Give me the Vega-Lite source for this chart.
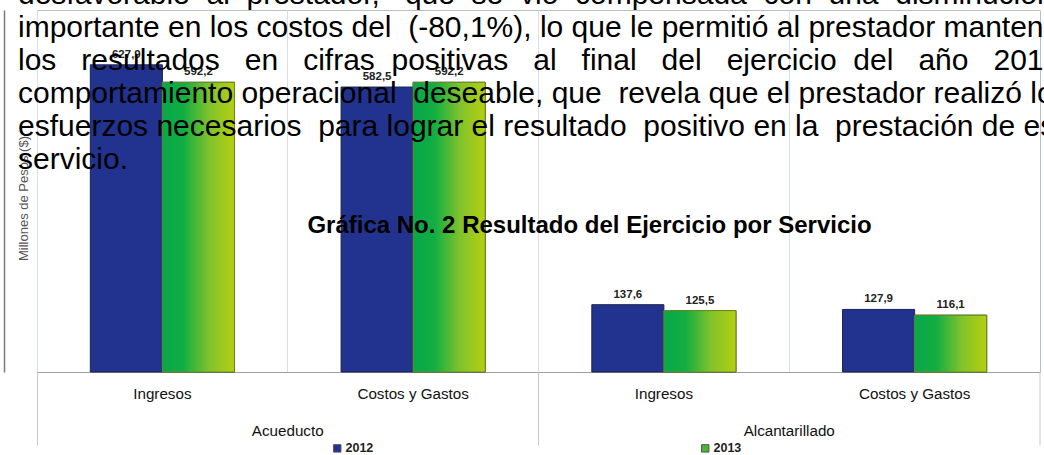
{
  "$schema": "https://vega.github.io/schema/vega-lite/v6.json",
  "width": 1003,
  "height": 362,
  "autosize": {"type": "none"},
  "padding": {"left": 37, "top": 10, "right": 4, "bottom": 83},
  "background": "white",
  "config": {
    "font": "Liberation Sans",
    "view": {"stroke": "#b8bfcc", "strokeWidth": 1},
    "locale": {"number": {"decimal": ",", "thousands": ".", "grouping": [3], "currency": ["$", ""]}}
  },
  "title": {
    "text": [
      "desfavorable\u00a0 al\u00a0 prestador,\u00a0\u00a0 que\u00a0 se\u00a0 vio\u00a0 compensada\u00a0 con\u00a0 una\u00a0 disminución",
      "importante en los costos del\u00a0 (-80,1%), lo que le permitió al prestador mantener",
      "los\u00a0\u00a0 resultados\u00a0\u00a0 en\u00a0\u00a0 cifras\u00a0 positivas\u00a0\u00a0 al\u00a0\u00a0 final\u00a0\u00a0 del\u00a0\u00a0 ejercicio\u00a0 del\u00a0\u00a0 año\u00a0\u00a0 2013",
      "comportamiento operacional\u00a0 deseable, que\u00a0 revela que el prestador realizó los",
      "esfuerzos necesarios\u00a0 para lograr el resultado\u00a0 positivo en la\u00a0 prestación de este",
      "servicio."
    ],
    "anchor": "start",
    "frame": "group",
    "orient": "top",
    "offset": 0,
    "dx": -19,
    "dy": 189,
    "baseline": "alphabetic",
    "font": "Liberation Sans",
    "fontSize": 30,
    "fontWeight": "normal",
    "color": "#000000",
    "lineHeight": 33
  },
  "data": {
    "values": [
      {"service": "Acueducto", "category": "Ingresos", "key": "Acueducto|Ingresos", "year": "2012", "value": 627.9},
      {"service": "Acueducto", "category": "Ingresos", "key": "Acueducto|Ingresos", "year": "2013", "value": 592.2},
      {"service": "Acueducto", "category": "Costos y Gastos", "key": "Acueducto|Costos y Gastos", "year": "2012", "value": 582.5},
      {"service": "Acueducto", "category": "Costos y Gastos", "key": "Acueducto|Costos y Gastos", "year": "2013", "value": 592.2},
      {"service": "Alcantarillado", "category": "Ingresos", "key": "Alcantarillado|Ingresos", "year": "2012", "value": 137.6},
      {"service": "Alcantarillado", "category": "Ingresos", "key": "Alcantarillado|Ingresos", "year": "2013", "value": 125.5},
      {"service": "Alcantarillado", "category": "Costos y Gastos", "key": "Alcantarillado|Costos y Gastos", "year": "2012", "value": 127.9},
      {"service": "Alcantarillado", "category": "Costos y Gastos", "key": "Alcantarillado|Costos y Gastos", "year": "2013", "value": 116.1}
    ]
  },
  "resolve": {"axis": {"x": "independent", "y": "independent"}},
  "layer": [
    {
      "mark": {"type": "bar", "stroke": "#1c2250", "strokeWidth": 1},
      "encoding": {
        "x": {
          "field": "key", "type": "nominal",
          "sort": ["Acueducto|Ingresos", "Acueducto|Costos y Gastos", "Alcantarillado|Ingresos", "Alcantarillado|Costos y Gastos"],
          "scale": {"domain": ["Acueducto|Ingresos", "Acueducto|Costos y Gastos", "Alcantarillado|Ingresos", "Alcantarillado|Costos y Gastos"], "paddingInner": 0, "paddingOuter": 0},
          "axis": {
            "title": null, "orient": "bottom", "labelAngle": 0, "ticks": false, "grid": false,
            "domain": true, "domainColor": "#a0a0a0", "domainWidth": 1,
            "labelExpr": "split(datum.label, '|')[1]",
            "labelFontSize": 15.2, "labelColor": "#111111", "labelPadding": 14, "labelBaseline": "top"
          }
        },
        "xOffset": {"field": "year", "type": "nominal", "scale": {"domain": ["2012", "2013"], "paddingOuter": 0.74, "paddingInner": 0}},
        "y": {
          "field": "value", "type": "quantitative",
          "scale": {"domain": [0, 740], "nice": false},
          "axis": {
            "title": "Millones de Pesos ($)", "orient": "left", "labels": false, "ticks": false, "grid": false,
            "domain": true, "domainColor": "#7a7a7a", "domainWidth": 1.5, "offset": 33,
            "titleFontSize": 13, "titleFontWeight": "normal", "titleColor": "#555555", "titlePadding": -26, "titleY": 188
          }
        },
        "color": {
          "field": "year", "type": "nominal",
          "scale": {"domain": ["2012", "2013"], "range": ["#22338f", "#4db534"]},
          "legend": {
            "title": null, "orient": "none", "legendX": 294, "legendY": 432, "direction": "horizontal",
            "symbolType": "square", "symbolSize": 55, "symbolStrokeWidth": 1, "symbolStrokeColor": "#555",
            "labelFontSize": 12.5, "labelFontWeight": "bold", "labelColor": "#222", "labelOffset": 2,
            "columnPadding": 325
          }
        }
      }
    },
    {
      "transform": [{"filter": "datum.year == '2013'"}],
      "mark": {
        "type": "bar", "stroke": "#6f8a1e", "strokeWidth": 1,
        "color": {
          "gradient": "linear", "x1": 0, "y1": 0, "x2": 1, "y2": 0,
          "stops": [
            {"offset": 0, "color": "#07a84a"},
            {"offset": 0.3, "color": "#13ae42"},
            {"offset": 0.65, "color": "#80c22c"},
            {"offset": 1, "color": "#b4d010"}
          ]
        }
      },
      "encoding": {
        "x": {
          "field": "key", "type": "nominal",
          "sort": ["Acueducto|Ingresos", "Acueducto|Costos y Gastos", "Alcantarillado|Ingresos", "Alcantarillado|Costos y Gastos"],
          "axis": {
            "title": null, "orient": "bottom", "labelAngle": 0, "bandPosition": 0,
            "grid": true, "gridColor": "#d8dfec", "gridWidth": 1,
            "domain": false,
            "ticks": true, "tickSize": 73, "tickWidth": 1,
            "tickColor": {"condition": {"test": "indexof(datum.value, 'Ingresos') >= 0", "value": "#c8c8c8"}, "value": "transparent"},
            "labelExpr": "indexof(datum.label, 'Costos') >= 0 ? split(datum.label, '|')[0] : ''",
            "labelOffset": -125.4,
            "labelFontSize": 15.2, "labelColor": "#111111", "labelPadding": -22, "labelBaseline": "top", "labelAlign": "center"
          }
        },
        "xOffset": {"field": "year", "type": "nominal", "scale": {"domain": ["2012", "2013"]}},
        "y": {"field": "value", "type": "quantitative", "scale": {"domain": [0, 740], "nice": false}, "axis": null}
      }
    },
    {
      "mark": {"type": "text", "baseline": "bottom", "dy": -5, "fontSize": 11.5, "fontWeight": "bold", "color": "#222222"},
      "encoding": {
        "x": {"field": "key", "type": "nominal", "sort": ["Acueducto|Ingresos", "Acueducto|Costos y Gastos", "Alcantarillado|Ingresos", "Alcantarillado|Costos y Gastos"], "axis": null},
        "xOffset": {"field": "year", "type": "nominal", "scale": {"domain": ["2012", "2013"]}},
        "y": {"field": "value", "type": "quantitative", "scale": {"domain": [0, 740], "nice": false}, "axis": null},
        "text": {"field": "value", "type": "quantitative", "format": ".1f"}
      }
    },
    {
      "data": {"values": [{"label": "Gráfica No. 2 Resultado del Ejercicio por Servicio", "anchorKey": "Alcantarillado|Ingresos", "level": 298}]},
      "mark": {"type": "text", "align": "center", "baseline": "middle", "dx": 51, "fontSize": 24, "fontWeight": "bold", "color": "#000000"},
      "encoding": {
        "x": {"field": "anchorKey", "type": "nominal", "bandPosition": 0, "axis": null},
        "y": {"field": "level", "type": "quantitative", "scale": {"domain": [0, 740], "nice": false}, "axis": null},
        "text": {"field": "label"}
      }
    },
    {
      "data": {"values": [{"edgeKey": "Alcantarillado|Costos y Gastos", "from": 0, "to": -150}]},
      "mark": {"type": "rule", "color": "#c8c8c8", "strokeWidth": 1},
      "encoding": {
        "x": {"field": "edgeKey", "type": "nominal", "bandPosition": 1, "axis": null},
        "y": {"field": "from", "type": "quantitative", "scale": {"domain": [0, 740], "nice": false}, "axis": null},
        "y2": {"field": "to"}
      }
    }
  ]
}
